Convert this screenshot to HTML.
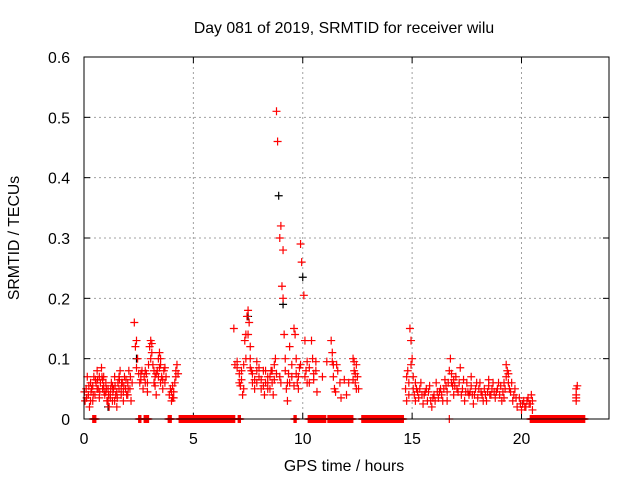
<!DOCTYPE html>
<html><head><meta charset="utf-8"><style>
body{margin:0;background:#fff;}
svg{display:block;font-family:"Liberation Sans",sans-serif;}
</style></head><body>
<svg id="chart" width="640" height="480" viewBox="0 0 640 480">
<rect width="640" height="480" fill="#fff"/>
<text x="344" y="33" font-size="15.8" text-anchor="middle">Day 081 of 2019, SRMTID for receiver wilu</text>
<text x="0" y="0" font-size="15.8" text-anchor="middle" transform="translate(19,238) rotate(-90)">SRMTID / TECUs</text>
<text x="344" y="471" font-size="15.8" text-anchor="middle">GPS time / hours</text>
<g id="grid"></g><g id="ticks"></g><g id="marks"></g>
<rect x="84" y="57" width="525" height="362" fill="none" stroke="#000" stroke-width="1"/>
</svg>
<script>
const xTicks=[0,5,10,15,20];
const yTicks=[0,0.1,0.2,0.3,0.4,0.5,0.6];
const yTickLabels=["0","0.1","0.2","0.3","0.4","0.5","0.6"];
const redSeries=[[0.05,.03],[0.1,.05],[0.15,.07],[0.2,.04],[0.25,.02],[0.3,.06],[0.35,.05],[0.4,.03],[0.45,.07],[0.5,.04],[0.55,.06],[0.6,.08],[0.65,.05],[0.7,.07],[0.75,.06],[0.8,.085],[0.85,.05],[0.9,.07],[0.95,.04],[1.0,.06],[1.05,.03],[1.1,.05],[1.15,.02],[1.2,.04],[1.25,.06],[1.3,.03],[1.35,.05],[1.4,.07],[1.45,.04],[1.5,.02],[1.55,.06],[1.6,.05],[1.65,.08],[1.7,.04],[1.75,.06],[1.8,.03],[1.85,.07],[1.9,.05],[1.95,.04],[2.0,.06],[2.05,.08],[2.1,.05],[2.15,.03],[2.2,.06],[0.3,.03],[0.6,.05],[1.0,.045],[1.3,.055],[1.7,.05],[2.0,.04],[0.9,.055],[1.2,.035],[1.5,.045],[0.4,.055],
[2.3,.16],[2.35,.12],[2.4,.13],[2.45,.1],[2.5,.075],[2.6,.065],[2.7,.05],[2.8,.08],[2.9,.06],[3.0,.12],[3.05,.13],[3.1,.11],[3.15,.09],[3.2,.06],[3.3,.04],[3.35,.08],[3.4,.1],[3.45,.11],[3.5,.09],[3.55,.07],[3.6,.05],[3.65,.08],[3.7,.06],[2.6,.075],[3.25,.07],[3.75,.07],[3.9,.04],[3.95,.05],[4.0,.03],[4.05,.035],[4.1,.045],[4.15,.06],[4.2,.07],[4.25,.09],[4.3,.075],[2.95,.09],[3.5,.06],[2.75,.07],
[6.85,.15],[6.9,.09],[7.0,.095],[7.1,.075],[7.15,.055],[7.2,.065],[7.25,.04],[7.3,.09],[7.35,.13],[7.4,.14],[7.45,.17],[7.5,.18],[7.55,.16],[7.6,.12],[7.65,.08],[7.7,.06],[7.8,.05],[7.9,.095],[8.0,.07],[8.1,.05],[8.2,.08],[8.3,.06],[8.4,.07],[8.5,.05],[8.55,.08],[8.6,.06],[8.7,.09],[8.75,.1],[8.8,.51],[8.85,.46],[8.95,.3],[9.0,.32],[9.05,.22],[9.1,.2],[9.15,.14],[9.2,.1],[9.25,.05],[9.3,.03],[9.35,.075],[9.4,.06],[9.5,.09],[9.6,.15],[9.65,.14],[9.7,.1],[9.75,.06],[9.8,.05],[9.85,.085],[9.9,.29],[9.95,.26],[10.05,.205],[10.1,.13],[10.15,.08],[10.2,.06],[10.3,.085],[10.4,.13],[10.45,.1],[10.5,.075],[10.6,.095],[10.65,.045],[7.9,.08],[8.4,.05],[8.95,.07],[9.1,.28],
[10.9,.07],[11.3,.13],[11.35,.11],[11.4,.09],[11.45,.05],[11.5,.045],[11.55,.09],[11.7,.06],[11.9,.065],[12.0,.04],[12.1,.06],[12.3,.1],[12.35,.08],[12.4,.06],[12.45,.09],[12.5,.07],[12.55,.05],[11.1,.095],
[14.7,.05],[14.75,.03],[14.8,.08],[14.85,.06],[14.9,.15],[14.95,.13],[15.0,.1],[15.05,.07],[15.1,.04],[15.2,.05],[15.3,.035],[15.4,.06],[15.5,.025],[15.6,.045],[15.7,.03],[15.8,.055],[15.9,.02],[16.0,.04],[16.1,.06],[16.2,.035],[16.3,.05],[16.4,.03],[16.5,.065],[16.6,.045],[16.7,.08],[16.75,.1],[16.8,.06],[16.9,.04],[17.0,.07],[17.1,.045],[17.2,.085],[17.3,.05],[17.4,.03],[17.5,.06],[17.6,.04],[17.7,.055],[17.8,.025],[17.9,.05],[18.0,.035],[18.1,.06],[18.2,.04],[18.3,.05],[18.4,.03],[18.5,.055],[18.6,.04],[18.7,.06],[18.8,.035],[18.9,.05],[19.0,.04],[19.1,.03],[19.2,.06],[19.3,.09],[19.35,.08],[19.4,.06],[19.5,.045],[19.6,.03],[19.7,.05],[19.8,.02],[19.9,.035],[20.0,.015],[20.1,.03],[20.2,.02],[20.3,.035],[20.4,.025],[20.5,.03],[15.25,.045],[15.65,.05],[16.05,.03],[16.45,.05],[16.85,.055],[17.25,.04],[17.65,.045],[18.05,.05],[18.45,.045],[18.85,.045],[19.25,.05],[19.65,.04],[20.05,.025],[15.45,.04],[16.25,.045],[17.05,.05],[17.85,.04],[18.65,.05],[19.45,.05],[20.25,.03],
[22.5,.03],[22.5,.04],[22.5,.05],[22.55,.055],[22.5,.035]];
const redSeries2=[[0.02,.045],[0.12,.035],[0.22,.055],[0.32,.045],[0.42,.04],[0.52,.065],[0.62,.065],[0.72,.045],[0.82,.07],[0.92,.045],[1.02,.05],[1.12,.04],[1.22,.05],[1.32,.045],[1.42,.055],[1.52,.035],[1.62,.065],[1.72,.06],[1.82,.055],[1.92,.065],[2.02,.05],[2.12,.07],[0.7,.035],[1.1,.03],[1.4,.03],[1.8,.045],[0.85,.065],[1.6,.07],
[2.4,.085],[2.55,.06],[2.65,.08],[2.8,.06],[2.85,.075],[3.05,.1],[3.1,.125],[3.2,.08],[3.3,.075],[3.4,.07],[3.45,.085],[3.5,.1],[3.6,.065],[3.7,.085],[3.25,.055],[2.9,.045],[4.0,.045],[4.1,.035],[4.2,.08],[4.05,.055],
[7.0,.085],[7.1,.06],[7.2,.08],[7.3,.05],[7.4,.1],[7.5,.14],[7.6,.085],[7.7,.075],[7.8,.065],[7.9,.06],[8.0,.085],[8.1,.065],[8.2,.055],[8.3,.08],[8.4,.06],[8.5,.07],[8.6,.08],[8.7,.065],[8.8,.075],[9.0,.06],[9.2,.08],[9.3,.06],[9.4,.12],[9.5,.07],[9.7,.075],[9.8,.07],[9.9,.09],[10.1,.07],[10.2,.095],[10.3,.06],[10.5,.065],[10.6,.08],[7.6,.1],[8.25,.04],[8.65,.04],[9.6,.055],
[11.35,.095],[11.4,.07],[11.6,.08],[12.3,.065],[12.4,.075],[12.45,.05],[12.35,.095],[11.75,.035],
[14.75,.07],[14.85,.04],[14.95,.09],[15.05,.05],[15.15,.06],[15.35,.05],[15.55,.04],[15.75,.045],[15.95,.035],[16.15,.045],[16.35,.04],[16.55,.055],[16.65,.06],[16.8,.075],[16.95,.055],[17.15,.06],[17.35,.065],[17.55,.045],[17.75,.04],[17.95,.06],[18.15,.045],[18.35,.04],[18.55,.04],[18.75,.045],[18.95,.06],[19.15,.045],[19.3,.07],[19.4,.075],[19.55,.06],[19.75,.035],[19.95,.025],[20.15,.02],[20.35,.025],[20.45,.04],[15.85,.03],[16.6,.03],[17.45,.045],[18.25,.03],[19.05,.055],[15.15,.03],[16.9,.065],[17.7,.07],[18.5,.065],[19.2,.035],[20.5,.015]];
const blackSeries=[[8.9,.37],[10.0,.235],[2.4,.1],[9.1,.19],[7.5,.17],[1.1,.02]];
const zeroRuns=[[0.4,0.55],[2.5,2.6],[2.75,2.95],[3.85,4.0],[4.35,6.9],[7.05,7.15],[9.6,9.7],[10.25,11.05],[11.15,12.3],[12.7,14.6],[16.7,16.7],[20.4,22.4],[22.45,22.9]];

const NS="http://www.w3.org/2000/svg";
const L=84,R=609,T=57,B=419,XMAX=24,YMAX=0.6;
const xs=t=>L+(t/XMAX)*(R-L);
const ys=v=>B-(v/YMAX)*(B-T);
function mk(tag,attrs,parent){const e=document.createElementNS(NS,tag);for(const k in attrs)e.setAttribute(k,attrs[k]);parent.appendChild(e);return e;}
const grid=document.getElementById('grid'),ticks=document.getElementById('ticks'),marks=document.getElementById('marks');
xTicks.forEach(t=>{
  const x=xs(t);
  if(t>0){const g=mk('line',{x1:x,x2:x,y1:T,y2:B,stroke:'#a0a0a0','stroke-dasharray':'2,3'},grid);
  
  }
  mk('line',{x1:x,x2:x,y1:B,y2:B-6,stroke:'#000'},ticks);
  mk('line',{x1:x,x2:x,y1:T,y2:T+6,stroke:'#000'},ticks);
  const tx=mk('text',{x:x,y:B+25,'font-size':15.8,'text-anchor':'middle'},ticks);
  tx.textContent=String(t);
  
  
});
yTicks.forEach((v,i)=>{
  const y=ys(v);
  if(v>0&&v<YMAX){const g=mk('line',{x1:L,x2:R,y1:y,y2:y,stroke:'#a0a0a0','stroke-dasharray':'2,3'},grid);
  
  }
  mk('line',{x1:L,x2:L+6,y1:y,y2:y,stroke:'#000'},ticks);
  mk('line',{x1:R,x2:R-6,y1:y,y2:y,stroke:'#000'},ticks);
  const tx=mk('text',{x:L-14,y:y+6,'font-size':15.8,'text-anchor':'end'},ticks);
  tx.textContent=yTickLabels[i];
  
  
});
function plus(t,v,color,name){
  const x=xs(t),y=ys(v);
  const p=mk('path',{d:`M${x-4},${y}h8M${x},${y-4}v8`,stroke:color,'stroke-width':1.2,fill:'none'},marks);
  
  
}
blackSeries.forEach(d=>plus(d[0],d[1],'#000','black-point'));
redSeries.forEach(d=>plus(d[0],d[1],'#f00','red-point'));
redSeries2.forEach(d=>plus(d[0],d[1],'#f00','red-point'));
zeroRuns.forEach(r=>{for(let t=r[0];t<=r[1]+1e-9;t+=0.02)plus(t,0,'#f00','zero-point');});
</script>
</body></html>
